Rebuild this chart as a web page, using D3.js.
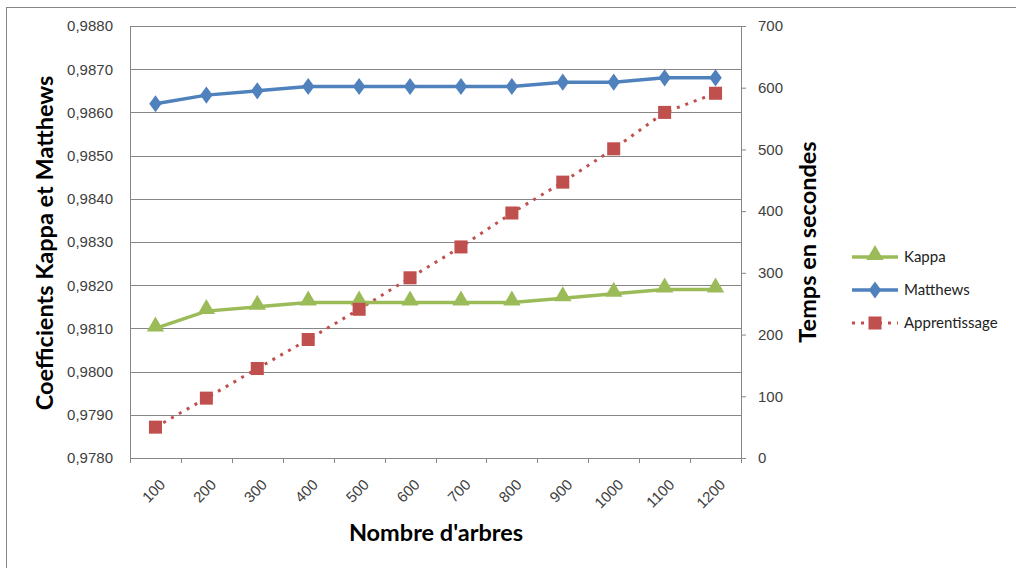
<!DOCTYPE html>
<html>
<head>
<meta charset="utf-8">
<script src="https://cdn.jsdelivr.net/npm/d3@7"></script>
<style>
  body { margin: 0; background: #fff; }
  svg { font-family: Lato, "Open Sans", sans-serif; }
  .tick text { fill: #404040; font-size: 15px; }
  .title { font-weight: 700; fill: #000; }
</style>
</head>
<body>
<svg id="chart" width="1016" height="568"></svg>
<script>
// data
const arbres = [100, 200, 300, 400, 500, 600, 700, 800, 900, 1000, 1100, 1200];
const kappa = [0.9810, 0.9814, 0.9815, 0.9816, 0.9816, 0.9816, 0.9816, 0.9816, 0.9817, 0.9818, 0.9819, 0.9819];
const matthews = [0.9862, 0.9864, 0.9865, 0.9866, 0.9866, 0.9866, 0.9866, 0.9866, 0.9867, 0.9867, 0.9868, 0.9868];
const apprentissage = [50, 97, 145, 192, 241, 292, 342, 397, 447, 501, 560, 591];

const leftTicks = d3.range(0, 11).map(i => 0.978 + i * 0.001);
const rightTicks = d3.range(0, 8).map(i => i * 100);

const margin = {top: 26, right: 275, bottom: 110, left: 130};
const width = 1016 - margin.left - margin.right;
const height = 568 - margin.top - margin.bottom;

const svg = d3.select('#chart');

// outer frame
svg.append('rect')
	.attr('x', 6.5).attr('y', 7.5)
	.attr('width', 1040).attr('height', 600)
	.attr('fill', 'none')
	.attr('stroke', '#868686');

const g = svg.append('g')
	.attr('transform', `translate(${margin.left}, ${margin.top})`);

// scales
const xScale = d3.scaleBand().domain(arbres).range([0, width]);
const yLeft = d3.scaleLinear().domain([0.978, 0.988]).range([height, 0]);
const yRight = d3.scaleLinear().domain([0, 700]).range([height, 0]);
const xMid = d => xScale(d) + xScale.bandwidth() / 2;

// gridlines
g.append('g')
	.selectAll('line')
	.data(leftTicks)
	.join('line')
		.attr('x1', 0)
		.attr('x2', width)
		.attr('y1', d => Math.round(yLeft(d)) + 0.5)
		.attr('y2', d => Math.round(yLeft(d)) + 0.5)
		.attr('stroke', '#868686');

// left axis
const leftAxis = g.append('g')
	.call(d3.axisLeft(yLeft).tickValues(leftTicks).tickSize(0).tickPadding(17)
		.tickFormat(d => d3.format('.4f')(d).replace('.', ',')));
leftAxis.select('.domain').attr('stroke', '#868686');

// right axis
const rightAxis = g.append('g')
	.attr('transform', `translate(${width}, 0)`)
	.call(d3.axisRight(yRight).tickValues(rightTicks).tickSize(5).tickPadding(12));
rightAxis.selectAll('.tick line').attr('stroke', '#868686');
rightAxis.select('.domain').attr('stroke', '#868686');

// bottom axis, ticks between categories
const bottomAxis = g.append('g')
	.attr('transform', `translate(0, ${height})`)
	.call(d3.axisBottom(xScale).tickSize(0).tickPadding(0));
bottomAxis.select('.domain').attr('stroke', '#868686');
bottomAxis.selectAll('.tick text')
	.attr('text-anchor', 'end')
	.attr('dy', '0.35em')
	.attr('transform', 'translate(7, 24) rotate(-45)');
bottomAxis.append('g')
	.selectAll('line')
	.data(d3.range(0, arbres.length + 1))
	.join('line')
		.attr('x1', i => Math.round(i * xScale.step()) + 0.5)
		.attr('x2', i => Math.round(i * xScale.step()) + 0.5)
		.attr('y1', 0)
		.attr('y2', 5)
		.attr('stroke', '#868686');

// series
const green = '#9bbb59';
const blue = '#4f81bd';
const red = '#c0504d';

const lineLeft = d3.line().x((d, i) => xMid(arbres[i])).y(d => yLeft(d));
const lineRight = d3.line().x((d, i) => xMid(arbres[i])).y(d => yRight(d));

g.append('path')
	.attr('d', lineRight(apprentissage))
	.attr('fill', 'none')
	.attr('stroke', red)
	.attr('stroke-width', 3)
	.attr('stroke-dasharray', '3 6');

g.append('path')
	.attr('d', lineLeft(kappa))
	.attr('fill', 'none')
	.attr('stroke', green)
	.attr('stroke-width', 3.5);

g.append('path')
	.attr('d', lineLeft(matthews))
	.attr('fill', 'none')
	.attr('stroke', blue)
	.attr('stroke-width', 3.5);

const triangle = d3.symbol().type(d3.symbolTriangle).size(130);
const diamond = d3.symbol().type(d3.symbolDiamond).size(85);
const square = d3.symbol().type(d3.symbolSquare).size(170);

g.append('g').selectAll('path')
	.data(kappa)
	.join('path')
		.attr('d', triangle)
		.attr('transform', (d, i) => `translate(${xMid(arbres[i])}, ${yLeft(d) - 2})`)
		.attr('fill', green);

g.append('g').selectAll('path')
	.data(matthews)
	.join('path')
		.attr('d', diamond)
		.attr('transform', (d, i) => `translate(${xMid(arbres[i])}, ${yLeft(d)}) scale(1.25, 1)`)
		.attr('fill', blue);

g.append('g').selectAll('path')
	.data(apprentissage)
	.join('path')
		.attr('d', square)
		.attr('transform', (d, i) => `translate(${xMid(arbres[i])}, ${yRight(d)})`)
		.attr('fill', red);

// titles
svg.append('text')
	.attr('class', 'title')
	.attr('transform', 'translate(53, 243) rotate(-90)')
	.attr('text-anchor', 'middle')
	.style('font-size', '23.5px')
	.text('Coefficients Kappa et Matthews');

svg.append('text')
	.attr('class', 'title')
	.attr('transform', 'translate(816, 242) rotate(-90)')
	.attr('text-anchor', 'middle')
	.style('font-size', '23.5px')
	.text('Temps en secondes');

svg.append('text')
	.attr('class', 'title')
	.attr('x', 436)
	.attr('y', 541)
	.attr('text-anchor', 'middle')
	.style('font-size', '23.5px')
	.text("Nombre d'arbres");

// legend
const legendItems = [
	{name: 'Kappa', color: green, symbol: triangle, dash: null, dy: -2},
	{name: 'Matthews', color: blue, symbol: diamond, dash: null, dy: 0},
	{name: 'Apprentissage', color: red, symbol: square, dash: '3 6', dy: 0}
];

const legend = svg.append('g')
	.attr('transform', 'translate(852, 257)');

const item = legend.selectAll('g')
	.data(legendItems)
	.join('g')
		.attr('transform', (d, i) => `translate(0, ${i * 33})`);

item.append('line')
	.attr('x1', 0).attr('x2', 46)
	.attr('stroke', d => d.color)
	.attr('stroke-width', d => d.dash ? 3 : 3.5)
	.attr('stroke-dasharray', d => d.dash);

item.append('path')
	.attr('d', d => d.symbol())
	.attr('transform', d => `translate(23, ${d.dy})` + (d.name === 'Matthews' ? ' scale(1.25, 1)' : ''))
	.attr('fill', d => d.color);

item.append('text')
	.attr('x', 52)
	.attr('dy', '0.35em')
	.style('font-size', '15px')
	.attr('fill', '#222')
	.text(d => d.name);
</script>
</body>
</html>
